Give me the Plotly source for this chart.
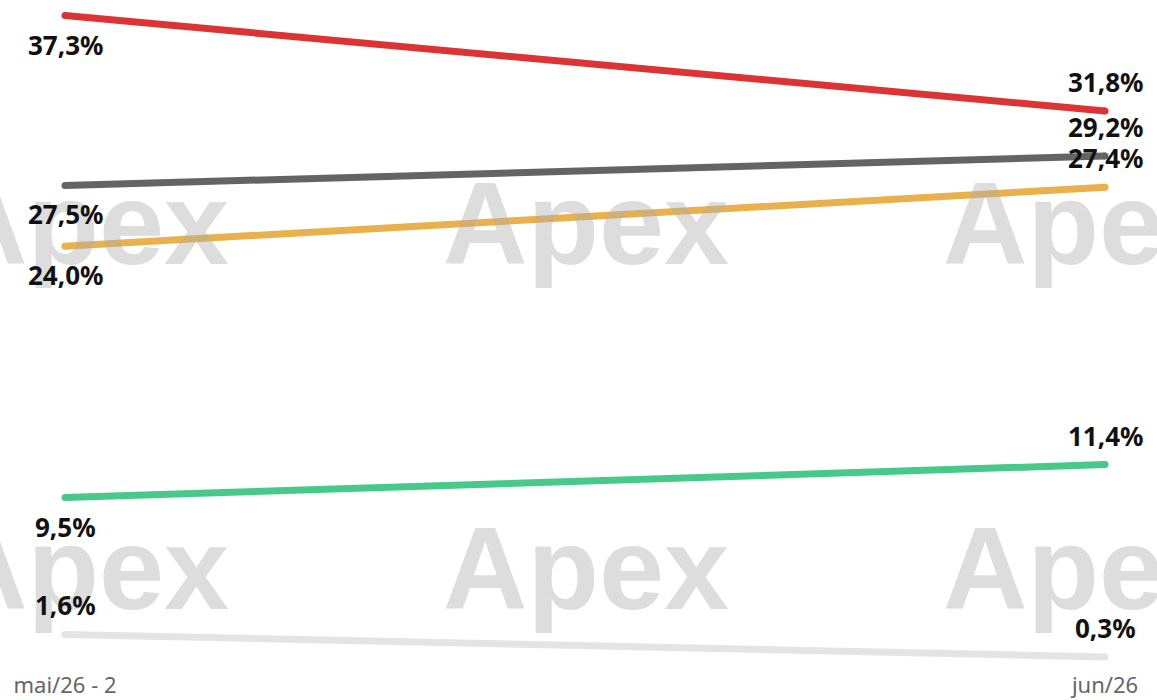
import plotly.graph_objects as go

categories = ["mai/26 - 2", "jun/26"]
series_names = ["Vermelho", "Cinza", "Laranja", "Verde", "Cinza claro"]
series_values = [
    [37.3, 31.8],
    [27.5, 29.2],
    [24.0, 27.4],
    [9.5, 11.4],
    [1.6, 0.3],
]
series_colors = ["#DC3434", "#646464", "#E9B04B", "#46C98A", "#E4E4E4"]
# label placement: +1 above the point, -1 below
label_side = [
    [-1, 1],
    [-1, 1],
    [-1, 1],
    [-1, 1],
    [1, 1],
]

xpos = list(range(len(categories)))

fig = go.Figure()
annotations = []

# watermark (drawn first so value labels sit on top of it)
W = 1157
for ycen in [0.666, 0.152]:
    for xc in [86, 586, 1086]:
        annotations.append(dict(
            x=xc / W, y=ycen, xref="paper", yref="paper", text="<b>Apex</b>",
            showarrow=False, xanchor="center", yanchor="middle",
            font=dict(family="Liberation Sans", size=117, color="rgba(175,175,175,0.42)"),
        ))

for name, vals, col, sides in zip(series_names, series_values, series_colors, label_side):
    fig.add_trace(go.Scatter(
        x=xpos, y=vals, mode="lines+markers", name=name,
        line=dict(color=col, width=7),
        marker=dict(color=col, size=7),
        hoverinfo="skip",
    ))
    for xi, v, s in zip(xpos, vals, sides):
        annotations.append(dict(
            x=xi, y=v, xref="x", yref="y",
            text=f"{v:.1f}%".replace(".", ","),
            showarrow=False, yshift=29 * s,
            xanchor="center", yanchor="middle",
            font=dict(family="Noto Sans", size=26, color="#111111", weight="bold"),
        ))

fig.update_layout(
    width=1157, height=700,
    margin=dict(l=0, r=0, t=0, b=30, autoexpand=False),
    paper_bgcolor="white", plot_bgcolor="white",
    showlegend=False,
    annotations=annotations,
    xaxis=dict(
        range=[-0.0625, 1.05], tickmode="array", tickvals=xpos, ticktext=categories,
        showgrid=False, zeroline=False, showline=False, automargin=False,
        tickfont=dict(family="Noto Sans", size=22, color="#666666"),
    ),
    yaxis=dict(range=[-0.45, 38.2], visible=False, showgrid=False, zeroline=False),
)

fig.write_html(
    "out.html",
    config={"displayModeBar": False},
    post_script="document.body.style.margin='0';document.body.style.overflow='hidden';",
)
